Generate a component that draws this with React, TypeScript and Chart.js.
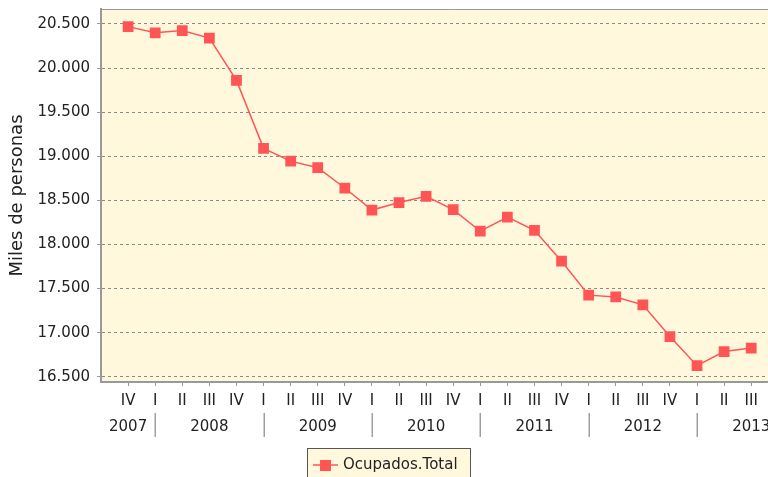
import React, { useEffect, useRef } from 'react';
import { Chart, registerables } from 'chart.js';

Chart.register(...registerables);

const quarterLabels = ['IV', 'I', 'II', 'III', 'IV', 'I', 'II', 'III', 'IV', 'I', 'II', 'III', 'IV', 'I', 'II', 'III', 'IV', 'I', 'II', 'III', 'IV', 'I', 'II', 'III'];
const yearLabels = ['2007', '2008', '2009', '2010', '2011', '2012', '2013'];
const ocupadosTotal = [20470, 20400, 20425, 20340, 19860, 19090, 18945, 18870, 18640, 18390, 18475, 18545, 18395, 18150, 18310, 18160, 17810, 17425, 17405, 17315, 16955, 16625, 16785, 16825];
const yTicks = [16500, 17000, 17500, 18000, 18500, 19000, 19500, 20000, 20500];
const seriesLabel = 'Ocupados.Total';
const yTitle = 'Miles de personas';

const FONT = 'DejaVu Sans';
const TEXT = '#222222';
const RED = '#ff5555';
const PLOT_BG = '#fff8dc';

function fmtThousands(v: number): string {
  const s = Math.round(v).toString();
  return s.replace(/\B(?=(\d{3})+(?!\d))/g, '.');
}

const decorPlugin = {
  id: 'decor',
  beforeDraw(chart: any) {
    const { ctx, chartArea } = chart;
    ctx.save();
    ctx.fillStyle = '#ffffff';
    ctx.fillRect(0, 0, chart.width, chart.height);
    ctx.fillStyle = PLOT_BG;
    ctx.fillRect(chartArea.left, chartArea.top, chartArea.right - chartArea.left, chartArea.bottom - chartArea.top);
    ctx.restore();
  },
  afterDraw(chart: any) {
    const { ctx, chartArea } = chart;
    const xs = chart.scales.x;
    ctx.save();
    // top outline of plot
    ctx.strokeStyle = '#999999';
    ctx.lineWidth = 1;
    ctx.beginPath();
    ctx.moveTo(chartArea.left, chartArea.top + 0.5);
    ctx.lineTo(chartArea.right, chartArea.top + 0.5);
    ctx.stroke();

    // year row
    const starts: number[] = [];
    quarterLabels.forEach((q, i) => { if (q === 'I') starts.push(i); });
    const bounds = [xs.min, ...starts, xs.max];
    ctx.strokeStyle = '#a0a0a0';
    ctx.lineWidth = 1.5;
    starts.forEach((i) => {
      const px = Math.round(xs.getPixelForValue(i)) + 0.25;
      ctx.beginPath();
      ctx.moveTo(px, 413);
      ctx.lineTo(px, 437);
      ctx.stroke();
    });
    ctx.fillStyle = TEXT;
    ctx.font = `15px "${FONT}"`;
    ctx.textAlign = 'center';
    ctx.textBaseline = 'middle';
    yearLabels.forEach((yl, k) => {
      const cx = (xs.getPixelForValue(bounds[k]) + xs.getPixelForValue(bounds[k + 1])) / 2;
      ctx.fillText(yl, cx, 427);
    });

    // legend
    const label = chart.data.datasets[0].label;
    ctx.fillStyle = PLOT_BG;
    ctx.fillRect(307.5, 448.5, 163, 40);
    ctx.strokeStyle = '#555555';
    ctx.lineWidth = 1;
    ctx.strokeRect(307.5, 448.5, 163, 40);
    ctx.strokeStyle = RED;
    ctx.lineWidth = 1.5;
    ctx.beginPath();
    ctx.moveTo(313, 465);
    ctx.lineTo(338, 465);
    ctx.stroke();
    ctx.fillStyle = RED;
    ctx.fillRect(320, 460, 11, 11);
    ctx.fillStyle = TEXT;
    ctx.font = `15px "${FONT}"`;
    ctx.textAlign = 'left';
    ctx.textBaseline = 'alphabetic';
    ctx.fillText(label, 343, 469, 121);
    ctx.restore();
  },
};

export default function App() {
  const ref = useRef<HTMLCanvasElement | null>(null);

  useEffect(() => {
    if (!ref.current) return;
    Chart.defaults.font.family = FONT;
    const chart = new Chart(ref.current, {
      type: 'line',
      data: {
        datasets: [
          {
            label: seriesLabel,
            data: ocupadosTotal.map((v, i) => ({ x: i, y: v })),
            borderColor: RED,
            backgroundColor: RED,
            borderWidth: 1.5,
            pointStyle: 'rect',
            pointRadius: 7.6,
            pointHoverRadius: 7.6,
            pointBorderWidth: 0,
            pointBackgroundColor: RED,
            tension: 0,
          },
        ],
      },
      options: {
        animation: false,
        responsive: false,
        devicePixelRatio: 1,
        layout: { padding: { top: 9, left: 0, right: 0, bottom: 0 } },
        plugins: {
          legend: { display: false },
          tooltip: { enabled: false },
        },
        scales: {
          x: {
            type: 'linear',
            min: -1,
            max: 25,
            afterBuildTicks: (s: any) => {
              s.ticks = quarterLabels.map((_, i) => ({ value: i }));
            },
            afterFit: (s: any) => {
              s.height = 95;
              s.paddingLeft = 0;
              s.paddingRight = 0;
            },
            ticks: {
              autoSkip: false,
              maxRotation: 0,
              minRotation: 0,
              padding: 6,
              color: TEXT,
              font: { size: 15, family: FONT },
              callback: (v: any) => quarterLabels[v as number] ?? '',
            },
            grid: {
              display: true,
              drawOnChartArea: false,
              drawTicks: true,
              tickLength: 4,
              tickColor: '#999999',
              tickWidth: 1,
              tickBorderDash: [],
            },
            border: { display: true, color: '#999999', width: 2 },
          },
          y: {
            type: 'linear',
            min: 16440,
            max: 20670,
            afterBuildTicks: (s: any) => {
              s.ticks = yTicks.map((v) => ({ value: v }));
            },
            afterFit: (s: any) => {
              s.width = 101;
              s.paddingTop = 0;
              s.paddingBottom = 0;
            },
            ticks: {
              padding: 7,
              color: TEXT,
              font: { size: 15, family: FONT },
              callback: (v: any) => fmtThousands(v as number),
            },
            grid: {
              display: true,
              drawOnChartArea: true,
              drawTicks: true,
              tickLength: 4,
              color: '#8a8a8a',
              lineWidth: 1,
              tickColor: '#999999',
              tickBorderDash: [],
            },
            border: { display: true, color: '#999999', width: 2, dash: [3, 3] },
            title: {
              display: true,
              text: yTitle,
              color: TEXT,
              font: { size: 18, family: FONT },
              padding: { top: 7, bottom: 0 },
            },
          },
        },
      },
      plugins: [decorPlugin],
    } as any);
    return () => chart.destroy();
  }, []);

  return (
    <div style={{ position: 'fixed', left: 0, top: 0, width: 768, height: 477, overflow: 'hidden', background: '#ffffff' }}>
      <canvas ref={ref} width={813} height={477} style={{ display: 'block', width: 813, height: 477 }} />
    </div>
  );
}
